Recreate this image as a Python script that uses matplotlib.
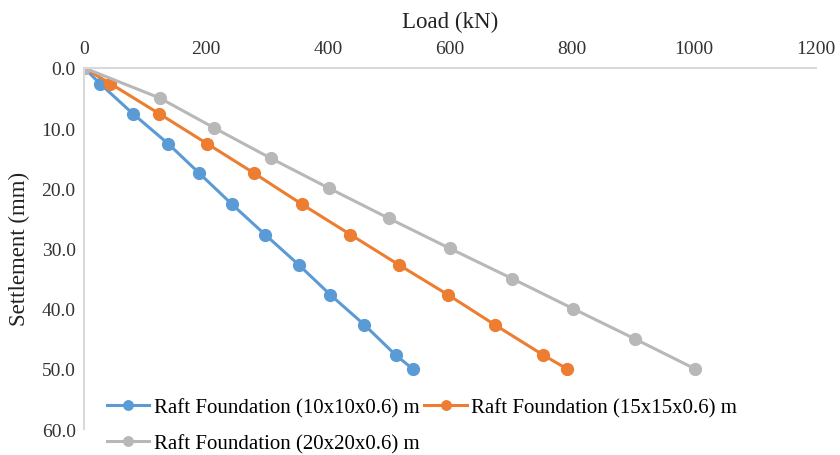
import numpy as np
import matplotlib.pyplot as plt

plt.rcParams['font.family'] = ['Liberation Serif', 'DejaVu Serif']

# Load (kN) vs settlement (mm)
settle_small = [0, 2.6, 7.6, 12.6, 17.5, 22.7, 27.7, 32.7, 37.7, 42.7, 47.7, 50.0]
load_10 = [0, 26, 80, 138, 189, 243, 297, 352, 404, 460, 511, 539]
load_15 = [0, 43, 123, 202, 279, 358, 437, 516, 597, 674, 753, 792]

settle_20 = [0, 5, 10, 15, 20, 25, 30, 35, 40, 45, 50]
load_20 = [0, 124, 214, 306, 402, 500, 600, 702, 802, 903, 1002]

labels = ['Raft Foundation (10x10x0.6) m',
          'Raft Foundation (15x15x0.6) m',
          'Raft Foundation (20x20x0.6) m']
colors = ['#5B9BD5', '#ED7D31', '#B8B8B8']

fig = plt.figure(figsize=(8.4, 4.56), dpi=100)
ax = fig.add_axes([0.1, 0.057, 0.871, 0.792])

h1, = ax.plot(load_10, settle_small, color=colors[0], lw=2.2, marker='o', ms=8.5, label=labels[0])
h2, = ax.plot(load_15, settle_small, color=colors[1], lw=2.2, marker='o', ms=8.5, label=labels[1])
h3, = ax.plot(load_20, settle_20, color=colors[2], lw=2.2, marker='o', ms=8.5, label=labels[2])

ax.set_xlim(0, 1200)
ax.set_ylim(60, 0)
ax.set_xticks(np.arange(0, 1201, 200))
ax.set_yticks(np.arange(0, 61, 10))
ax.set_yticklabels(['%.1f' % v for v in np.arange(0, 61, 10)])
ax.xaxis.tick_top()
ax.xaxis.set_label_position('top')
ax.tick_params(length=0, labelsize=14, colors='#333333', pad=6)
ax.tick_params(axis='x', pad=8)
for s in ['right', 'bottom']:
    ax.spines[s].set_visible(False)
for s in ['top', 'left']:
    ax.spines[s].set_color('#D9D9D9')
    ax.spines[s].set_linewidth(1.5)
ax.set_xlabel('Load (kN)', fontsize=16.5, color='#222222', labelpad=9)
ax.set_ylabel('Settlement (mm)', fontsize=16.5, color='#222222', labelpad=8)

fig.legend([h1, h3, h2], [labels[0], labels[2], labels[1]], ncol=2,
           loc='upper left', bbox_to_anchor=(0.127, 0.126), frameon=False,
           fontsize=15, handlelength=2.05, handletextpad=0.2, columnspacing=0.25,
           labelspacing=0.8, borderaxespad=0, borderpad=0, markerscale=0.8)

fig.savefig('out.png', dpi=100)
